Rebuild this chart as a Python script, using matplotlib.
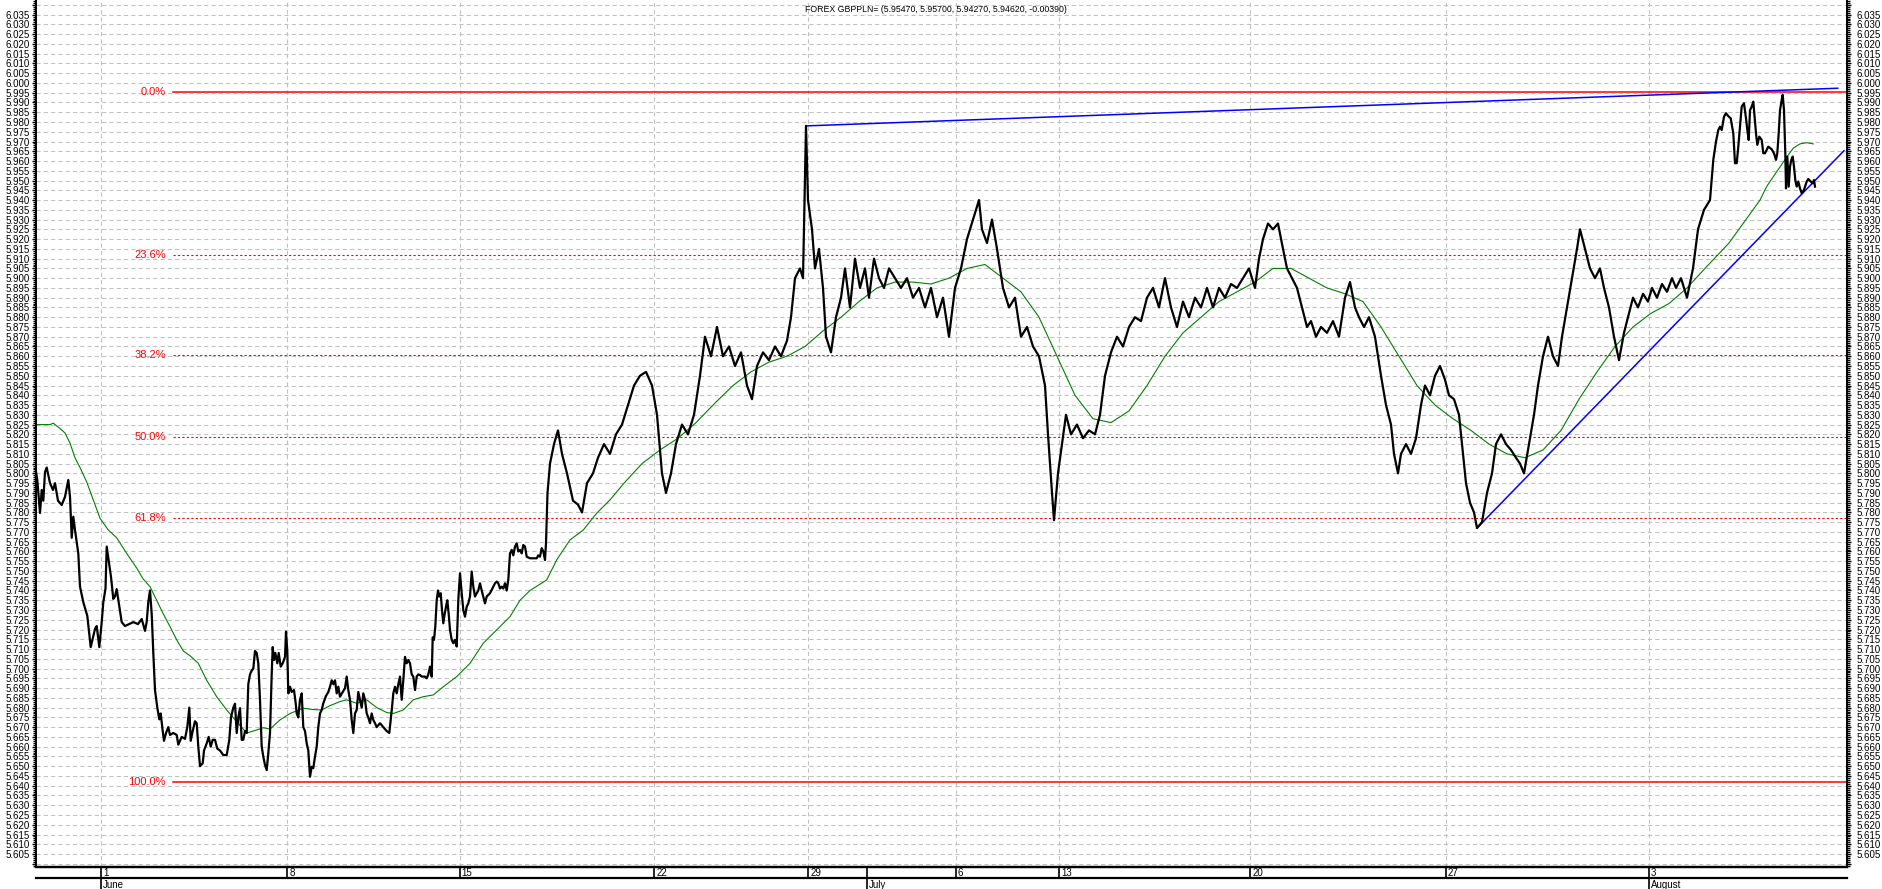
import matplotlib
matplotlib.use("Agg")
import matplotlib.pyplot as plt
from matplotlib.ticker import MultipleLocator, FuncFormatter

plt.rcParams['font.family'] = ['Liberation Sans', 'DejaVu Sans']

title = "FOREX GBPPLN= (5.95470, 5.95700, 5.94270, 5.94620, -0.00390)"

# (bar index, close) -- x is trading time, not calendar time
close_june = [
    (0, 5.8009), (1.3, 5.7966), (3, 5.7863), (4, 5.7797), (5.7, 5.7915), (7.3, 5.786), (9, 5.8007),
    (10.7, 5.803), (12.3, 5.799), (14, 5.795), (17, 5.7915), (19, 5.795), (22, 5.786), (25.7, 5.7838),
    (29, 5.788), (32.3, 5.7966), (34, 5.788), (35.7, 5.767), (37.3, 5.7778), (39, 5.771), (42.3, 5.759),
    (44, 5.742), (47.3, 5.734), (51.3, 5.727), (54.7, 5.711), (59, 5.7203), (60.7, 5.7218), (63.3, 5.711),
    (65.7, 5.7238), (67.3, 5.734), (69.5, 5.741), (70.7, 5.7625), (73, 5.754), (75, 5.747), (77.3, 5.7357),
    (79, 5.737), (80.7, 5.7407), (85.7, 5.7238), (89, 5.7218), (97.3, 5.7238), (102, 5.7228),
    (105.7, 5.7254), (109, 5.7193), (110.7, 5.724), (112.3, 5.734),
    (114, 5.740), (115.7, 5.728), (117.3, 5.708), (119, 5.689), (121.3, 5.680), (123.3, 5.674),
    (124.7, 5.677), (126.7, 5.668), (128, 5.663), (130, 5.667), (132.3, 5.670), (134, 5.666),
    (137.3, 5.667), (140.7, 5.666), (142.3, 5.661), (145.7, 5.665), (149, 5.664), (151.3, 5.670),
    (153.3, 5.680), (154.7, 5.663), (156.7, 5.668), (159, 5.673), (160.7, 5.672), (162.3, 5.660),
    (164, 5.650), (166.7, 5.6515), (168, 5.658), (170.7, 5.6617), (172.7, 5.665), (174.7, 5.660),
    (176.7, 5.6635), (179, 5.6635), (181.3, 5.659), (184, 5.658), (187.3, 5.6557), (190.7, 5.6557),
    (193.3, 5.6635), (195, 5.675), (197.3, 5.680), (199, 5.682), (200.7, 5.667), (202.3, 5.675),
    (204, 5.6797), (205.7, 5.6635), (207.3, 5.6635), (209, 5.668), (210.7, 5.667), (212.3, 5.692),
    (214, 5.697), (215.7, 5.699), (217.3, 5.700), (219, 5.709), (220.7, 5.708), (222.3, 5.7027),
    (224, 5.684), (225.7, 5.660), (227.3, 5.6549), (229, 5.6506), (230.7, 5.648), (232.3, 5.6566),
    (234, 5.667), (235.7, 5.697), (236.7, 5.711), (238, 5.7044), (239.3, 5.708), (241.3, 5.7027),
    (242.7, 5.708), (244.7, 5.701), (246.7, 5.7027), (249, 5.706), (250, 5.7189), (251.3, 5.709),
    (252.3, 5.6873), (254, 5.6907), (255.7, 5.688), (258, 5.689), (259.7, 5.6822), (260.7, 5.677),
    (262.3, 5.675), (264, 5.684), (265.7, 5.6873), (267.3, 5.670), (269, 5.668), (270.7, 5.6617),
    (272.3, 5.658), (274, 5.6446), (275.7, 5.6497), (277.3, 5.649), (279, 5.6549), (280.7, 5.660),
    (282.3, 5.670), (284, 5.677), (285.7, 5.6788), (287.3, 5.6822), (290, 5.686), (292.3, 5.688),
    (294, 5.6907), (295.7, 5.694), (297.3, 5.692), (299, 5.694), (300.7, 5.6873), (302.3, 5.6907),
    (304, 5.6856), (306.7, 5.688), (309, 5.6899), (310.7, 5.6959), (312.3, 5.689), (314, 5.684),
    (315.7, 5.6737), (317.3, 5.667), (319, 5.677), (320.7, 5.6788), (322.3, 5.688), (324, 5.684),
    (325.7, 5.680), (327.3, 5.6873), (329, 5.684), (330.7, 5.677), (332.3, 5.675), (334, 5.672),
    (335.7, 5.677), (337.3, 5.6737), (339, 5.672), (340.7, 5.670), (344, 5.672), (347.3, 5.670),
    (350.7, 5.668), (353.3, 5.667), (354.7, 5.6737), (356, 5.680), (357.3, 5.6873), (359, 5.6907),
    (360.7, 5.6873), (362.3, 5.692), (364, 5.6959), (365.7, 5.684), (367.3, 5.694), (369, 5.706),
    (370.7, 5.7027), (372.3, 5.7044), (374, 5.7027), (375.7, 5.697), (377.3, 5.6959), (379, 5.689),
    (380.7, 5.6959), (382.3, 5.697), (384, 5.6967), (385.7, 5.6959), (387.3, 5.6959), (389, 5.6959),
    (390.7, 5.695), (392.3, 5.697), (394, 5.701), (395.7, 5.6959), (396.7, 5.716), (398, 5.7147),
    (399.3, 5.7215), (400.7, 5.735), (402, 5.740), (403.3, 5.7369), (404.7, 5.7386), (406, 5.730),
    (407.3, 5.7232), (408.7, 5.728), (410, 5.7317), (411.3, 5.735), (412.7, 5.728), (414, 5.7198),
    (415.7, 5.7147), (417.3, 5.713), (419, 5.7147), (420.7, 5.7113), (422.3, 5.735), (424, 5.7488),
    (425.7, 5.7386), (427.3, 5.730), (429, 5.7266), (430.7, 5.7317), (432.3, 5.7334), (434, 5.7369),
    (435.7, 5.7497), (437.3, 5.742), (439, 5.7369), (440.7, 5.7386), (442.3, 5.740), (444, 5.7437),
    (445.7, 5.740), (447.3, 5.7369), (449, 5.7334), (450.7, 5.7369), (452.3, 5.7377), (454, 5.7386),
    (457.3, 5.742), (459, 5.7437), (460.7, 5.7446), (462.3, 5.7437), (464, 5.741), (465.7, 5.742),
    (467.3, 5.741), (469, 5.7437), (470.7, 5.740), (472.3, 5.7454), (474, 5.759), (475.7, 5.7608),
    (477.3, 5.758), (479, 5.7625), (480.7, 5.7642), (482.3, 5.760), (484, 5.7608), (485.7, 5.759),
    (487.3, 5.7633), (489, 5.7625), (490.7, 5.7573), (494, 5.7565), (497.3, 5.7565), (500.7, 5.7565),
    (502.3, 5.758), (504, 5.7573), (505.7, 5.7617), (507.3, 5.760), (509, 5.7556), (510, 5.7642),
]
close_july = [
    (511.5, 5.790), (514, 5.805), (518, 5.815), (522, 5.822), (526, 5.810), (531, 5.800), (537, 5.786),
    (542, 5.784), (546, 5.780), (551, 5.795), (557, 5.800), (562, 5.808), (568, 5.815), (574, 5.810),
    (580, 5.820), (586, 5.825), (592, 5.835), (598, 5.845), (604, 5.850), (610, 5.852), (616, 5.845),
    (621, 5.830), (626, 5.800), (630, 5.790), (635, 5.800), (640, 5.815), (646, 5.825), (652, 5.820),
    (658, 5.830), (664, 5.850), (669, 5.870), (675, 5.860), (681, 5.875), (687, 5.860), (693, 5.865),
    (699, 5.855), (705, 5.862), (711, 5.845), (716, 5.838), (721, 5.855), (727, 5.862), (733, 5.858),
    (739, 5.865), (745, 5.860), (751, 5.868), (755, 5.880), (759, 5.900), (764, 5.905), (767, 5.900),
    (770, 5.978), (772, 5.940), (776, 5.925), (779, 5.905), (783, 5.915), (787, 5.895), (790, 5.870),
    (795, 5.862), (800, 5.880), (805, 5.890), (809, 5.905), (814, 5.885), (819, 5.910), (824, 5.895),
    (829, 5.905), (833, 5.890), (838, 5.910), (843, 5.900), (848, 5.895), (853, 5.905), (859, 5.900),
    (865, 5.895), (871, 5.900), (877, 5.890), (883, 5.895), (889, 5.885), (895, 5.895), (901, 5.880),
    (907, 5.890), (913, 5.870), (919, 5.895), (925, 5.905), (931, 5.920), (937, 5.930), (943, 5.940),
    (946, 5.925), (951, 5.918), (956, 5.930), (961, 5.915), (967, 5.895), (973, 5.885), (979, 5.890),
    (985, 5.870), (991, 5.875), (997, 5.865), (1003, 5.860), (1009, 5.845), (1012, 5.820),
    (1016, 5.790), (1018, 5.776), (1022, 5.800), (1026, 5.815), (1030, 5.830), (1035, 5.820),
    (1041, 5.825), (1047, 5.818), (1053, 5.822), (1059, 5.820), (1064, 5.830), (1069, 5.850),
    (1075, 5.862), (1081, 5.870), (1087, 5.865), (1093, 5.875), (1099, 5.880), (1105, 5.878),
    (1111, 5.890), (1117, 5.895), (1123, 5.885), (1129, 5.900), (1135, 5.885), (1141, 5.875),
    (1147, 5.888), (1153, 5.880), (1159, 5.890), (1165, 5.885), (1171, 5.895), (1177, 5.885),
    (1183, 5.895), (1189, 5.890), (1195, 5.897), (1201, 5.895), (1207, 5.900), (1213, 5.905),
    (1219, 5.895), (1223, 5.910), (1227, 5.920), (1232, 5.928), (1237, 5.925), (1242, 5.928),
    (1247, 5.915), (1251, 5.905), (1256, 5.900), (1261, 5.895), (1266, 5.885), (1271, 5.875),
    (1275, 5.878), (1280, 5.870), (1285, 5.875), (1291, 5.872), (1297, 5.878), (1303, 5.870),
    (1309, 5.890), (1314, 5.898), (1319, 5.885), (1323, 5.880), (1328, 5.875), (1333, 5.880),
    (1339, 5.870), (1345, 5.850), (1350, 5.835), (1355, 5.825), (1358, 5.810), (1362, 5.800),
    (1365, 5.810), (1370, 5.815), (1375, 5.810), (1380, 5.818), (1385, 5.835), (1389, 5.845),
    (1394, 5.840), (1399, 5.850), (1404, 5.855), (1409, 5.848), (1413, 5.840), (1418, 5.838),
    (1423, 5.830), (1427, 5.810), (1430, 5.795), (1434, 5.785), (1438, 5.780), (1441, 5.772),
    (1446, 5.775), (1451, 5.790), (1456, 5.800), (1460, 5.815), (1465, 5.820), (1470, 5.815),
    (1475, 5.812), (1480, 5.808), (1484, 5.805), (1488, 5.800), (1493, 5.815), (1498, 5.830),
    (1502, 5.845), (1507, 5.860), (1512, 5.870), (1517, 5.860), (1522, 5.855), (1526, 5.870),
    (1531, 5.885), (1536, 5.900), (1541, 5.915), (1544, 5.925), (1549, 5.915), (1554, 5.905),
    (1559, 5.900), (1564, 5.905), (1568, 5.895), (1573, 5.885), (1578, 5.870), (1583, 5.858),
    (1588, 5.872), (1592, 5.880), (1597, 5.890), (1602, 5.885), (1607, 5.892), (1612, 5.888),
]
close_august = [
    (1616, 5.895), (1621, 5.890), (1626, 5.897), (1631, 5.893), (1636, 5.900), (1640, 5.895),
    (1645, 5.900), (1651, 5.890), (1657, 5.905), (1662, 5.925), (1668, 5.935),
    (1674, 5.940), (1677.3, 5.9606), (1680, 5.970), (1682.3, 5.9759), (1684, 5.9776), (1685.7, 5.9759),
    (1688, 5.9827), (1690, 5.9845), (1692.3, 5.983), (1694.7, 5.9819), (1697.3, 5.9742), (1699, 5.9589),
    (1700.7, 5.9589), (1702.3, 5.9674), (1704, 5.9776), (1705.7, 5.9879), (1708, 5.9896), (1710, 5.9819),
    (1711.3, 5.976), (1712.7, 5.9708), (1714, 5.986), (1715.7, 5.9879), (1717.3, 5.9904), (1718.3, 5.9845),
    (1720, 5.9742), (1721.3, 5.9683), (1723.3, 5.9725), (1725.7, 5.9708), (1727.3, 5.964), (1729, 5.964),
    (1732.3, 5.9674), (1735.7, 5.966), (1738, 5.964), (1740, 5.9606), (1741.3, 5.964), (1742.7, 5.9742),
    (1744, 5.986), (1745.7, 5.9913), (1746.7, 5.9939), (1748, 5.986), (1749.3, 5.964), (1750, 5.946),
    (1751.3, 5.9623), (1752.7, 5.9469), (1754, 5.9571), (1755.3, 5.9606), (1756.7, 5.9623),
    (1758, 5.9571), (1759.3, 5.9503), (1760.7, 5.9469), (1762.3, 5.9495), (1764, 5.946), (1765.7, 5.9435),
    (1768, 5.9452), (1770.7, 5.9495), (1772.3, 5.9508), (1774.7, 5.9495), (1776.7, 5.9486),
    (1778, 5.9503), (1779, 5.9469),
]

# moving average drawn by the charting package
ma_pts = [
    (0, 5.825), (14, 5.825), (17.3, 5.8257), (24, 5.823), (29, 5.8207), (34, 5.8155), (39, 5.808),
    (44, 5.803), (50.7, 5.7956), (57.3, 5.7863), (64, 5.777), (72.3, 5.771), (80.7, 5.767),
    (90.7, 5.759), (100.7, 5.7515), (107, 5.746), (114, 5.742), (120.7, 5.735), (127.3, 5.728),
    (134, 5.7215), (140.7, 5.7147), (147.3, 5.709), (154, 5.7066), (162.3, 5.7027), (170.7, 5.694),
    (180.7, 5.6856), (190.7, 5.6788), (200.7, 5.6728), (210.7, 5.667), (217.3, 5.668), (227.3, 5.6697),
    (234, 5.669), (244, 5.6737), (254, 5.677), (267.3, 5.6797), (277.3, 5.679), (285.7, 5.6788),
    (294, 5.681), (304, 5.6831), (310.7, 5.684), (320.7, 5.6822), (330.7, 5.684), (340.7, 5.680),
    (350.7, 5.6775), (357.3, 5.677), (367.3, 5.6788), (377.3, 5.684), (387.3, 5.6856), (397.3, 5.6865),
    (407.3, 5.6907), (420.7, 5.6959), (434, 5.7027), (447.3, 5.713), (460.7, 5.7198), (474, 5.7266),
    (484, 5.735), (494, 5.740), (510.7, 5.7454), (520.7, 5.7557), (534, 5.7659), (547.3, 5.771),
    (560.7, 5.7796), (574, 5.7864), (588, 5.795), (606, 5.805), (624, 5.812), (642, 5.818),
    (660, 5.826), (679, 5.836), (697, 5.845), (715, 5.852), (733, 5.857), (751, 5.860), (769, 5.865),
    (787, 5.873), (805, 5.880), (823, 5.888), (841, 5.895), (859, 5.898), (877, 5.898), (895, 5.897),
    (913, 5.900), (931, 5.905), (949, 5.907), (967, 5.900), (985, 5.893), (1003, 5.880), (1021, 5.860),
    (1039, 5.840), (1057, 5.828), (1075, 5.826), (1093, 5.832), (1111, 5.845), (1129, 5.860),
    (1147, 5.872), (1165, 5.880), (1183, 5.888), (1201, 5.893), (1219, 5.898), (1237, 5.905),
    (1255, 5.905), (1273, 5.900), (1291, 5.895), (1309, 5.892), (1327, 5.888), (1345, 5.875),
    (1363, 5.860), (1381, 5.845), (1399, 5.835), (1417, 5.828), (1435, 5.822), (1453, 5.815),
    (1471, 5.810), (1489, 5.808), (1507, 5.812), (1525, 5.822), (1543, 5.838), (1561, 5.852),
    (1579, 5.865), (1597, 5.875), (1615, 5.882), (1633, 5.887), (1651, 5.895), (1669, 5.905),
    (1693, 5.918), (1717, 5.935), (1724, 5.940), (1730.7, 5.947), (1737.3, 5.952), (1744, 5.957),
    (1750.7, 5.962), (1757.3, 5.9666), (1764, 5.9688), (1770.7, 5.9694), (1777.3, 5.9688),
]

fib_high = 5.9955
fib_low = 5.6420
fib_levels = [0.0, 0.236, 0.382, 0.5, 0.618, 1.0]
fib_labels = ["0.0%", "23.6%", "38.2%", "50.0%", "61.8%", "100.0%"]

trend_top = [(770, 5.978), (1801.7, 5.9973)]
trend_up = [(1441, 5.772), (1808, 5.9653)]

day_bar = [65, 251.3, 423.7, 618.3, 772.3, 919.7, 1023.3, 1214.3, 1409.7, 1613]
day_labels = ['1', '8', '15', '22', '29', '6', '13', '20', '27', '3']
month_bar = [65, 831.3, 1613]
month_labels = ['June', 'July', 'August']

close_pts = close_june + close_july + close_august
bars = [p[0] for p in close_pts]
close = [p[1] for p in close_pts]

W, H = 1883, 889
fig = plt.figure(figsize=(W / 100, H / 100), dpi=100)
ax = fig.add_axes([36 / W, (H - 867.3) / H, 1811 / W, 867.3 / H])
ax.set_xlim(0, 1811)
ylo, yhi = 5.5982, 6.0425
ax.set_ylim(ylo, yhi)

grid_kw = dict(color='#c0c0c0', linestyle=(0, (4, 3)), linewidth=0.75)
ax.set_xticks(day_bar)
ax.set_xticks([831.3], minor=True)
ax.xaxis.grid(True, which='major', **grid_kw)
ax.yaxis.grid(True, which='major', **grid_kw)
ax.set_axisbelow(True)
ax.tick_params(axis='x', which='both', direction='out', length=7.9, width=1.2,
               labelbottom=False, color='black')

fmt = FuncFormatter(lambda v, p: '' if (v < 5.6025 or v > 6.0375) else '%.3f' % v)
ax.yaxis.set_major_locator(MultipleLocator(0.005))
ax.yaxis.set_minor_locator(MultipleLocator(0.001))
ax.yaxis.set_major_formatter(fmt)
ax.tick_params(axis='y', which='major', direction='out', length=3, width=1, pad=1.5,
               labelsize=7, left=True, right=False)
ax.tick_params(axis='y', which='minor', direction='out', length=2, width=1, left=True, right=False)

ax2 = ax.twinx()
ax2.set_ylim(ylo, yhi)
ax2.yaxis.set_major_locator(MultipleLocator(0.005))
ax2.yaxis.set_minor_locator(MultipleLocator(0.001))
ax2.yaxis.set_major_formatter(fmt)
ax2.tick_params(axis='y', which='major', direction='out', length=3, width=1, pad=4, labelsize=7)
ax2.tick_params(axis='y', which='minor', direction='out', length=2, width=1)

for a in (ax, ax2):
    a.spines['top'].set_visible(False)
    a.spines['left'].set_linewidth(1.2)
    a.spines['right'].set_linewidth(1.2)
    a.spines['bottom'].set_linewidth(1.6)

# fibonacci retracement
for lev, lab in zip(fib_levels, fib_labels):
    v = fib_high - lev * (fib_high - fib_low)
    solid = lev in (0.0, 1.0)
    ax.plot([137, 1811], [v, v], color='#ff0000',
            linestyle='-' if solid else (0, (2, 2)),
            linewidth=1.1 if solid else 0.8, zorder=2)
    ax.text(130, v, lab, color='#ff0000', fontsize=8, ha='right', va='center')

ax.plot([p[0] for p in ma_pts], [p[1] for p in ma_pts], color='#008000', linewidth=0.8, zorder=3)
for tl in (trend_top, trend_up):
    ax.plot([p[0] for p in tl], [p[1] for p in tl], color='#0000ff', linewidth=1.1, zorder=4)
ax.plot(bars, close, color='black', linewidth=1.6, zorder=5)

# date rows under the plot
tr = ax.get_xaxis_transform()
row1 = -11 / 867.3
row2 = -21.7 / 867.3
ax.plot([0, 1], [row1, row1], color='black', linewidth=1.6, transform=ax.transAxes, clip_on=False)
for b, lab in zip(day_bar, day_labels):
    ax.text(b + 2, row1 / 2, lab, transform=tr, fontsize=7, ha='left', va='center')
for b, lab in zip(month_bar, month_labels):
    ax.plot([b, b], [row1, row2], color='black', linewidth=1.2, transform=tr, clip_on=False)
    ax.text(b + 2, (row1 + row2) / 2 - 0.001, lab, transform=tr, fontsize=7, ha='left', va='center')

fig.text(936 / W, 1 - 9 / H, title, fontsize=6.3, ha='center', va='center')

fig.savefig('out.png', dpi=100)
